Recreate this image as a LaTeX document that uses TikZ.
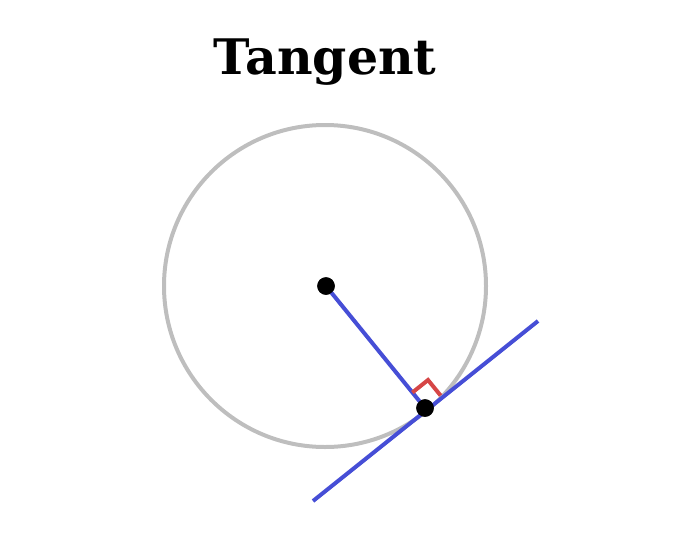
\documentclass[tikz,border=0pt]{standalone}
\usepackage{fontspec}
\newfontfamily\titlefont{DejaVu Serif}
\definecolor{circgray}{RGB}{190,190,190}
\definecolor{lineblue}{RGB}{70,78,214}
\definecolor{markred}{RGB}{214,70,70}
\tikzset{
  circlestyle/.style={draw=circgray, line width=4pt},
  bluestroke/.style={draw=lineblue, line width=4pt},
  rightmark/.style={draw=markred, line width=4pt},
  dotstyle/.style={circle, fill=black, inner sep=0pt, minimum size=17.5pt},
  titlestyle/.style={font=\titlefont\bfseries\fontsize{49}{59}\selectfont, inner sep=0pt}
}
\begin{document}
\begin{tikzpicture}[x=1pt,y=-1pt]
\useasboundingbox (0,0) rectangle (690,536);
\node[titlestyle, anchor=base] (title) at (325,74) {Tangent};
\draw[circlestyle] (325,286) circle (161);
\coordinate (t1) at (313,501);
\coordinate (t2) at (538,321);
\draw[bluestroke] (t1) -- (t2);
\node[dotstyle] (O) at (326,286) {};
\node[dotstyle] (P) at (425,408) {};
\draw[bluestroke] (O.center) -- (P.center);
\coordinate (m1) at (412.4,392.5);
\coordinate (m2) at (428,380);
\coordinate (m3) at (440.6,395.5);
\draw[rightmark, line join=miter] (m1) -- (m2) -- (m3);
\node[dotstyle] at (P.center) {};
\node[dotstyle] at (O.center) {};
\end{tikzpicture}
\end{document}
